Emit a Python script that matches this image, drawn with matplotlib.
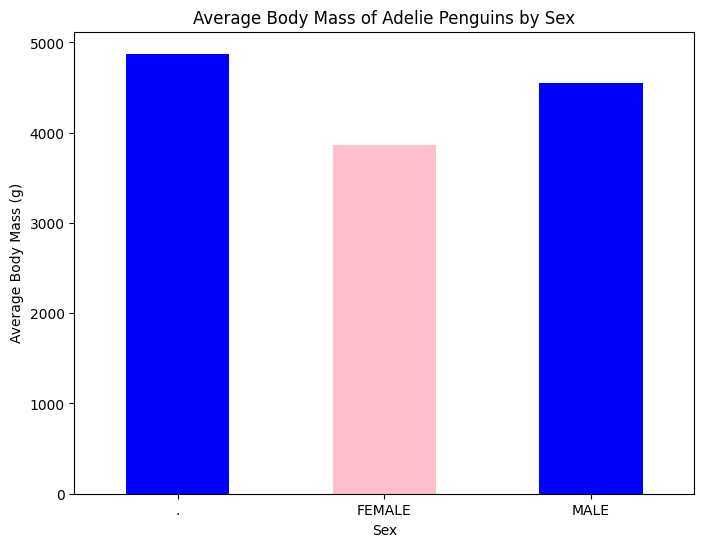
import matplotlib
matplotlib.use("Agg")
import matplotlib.pyplot as plt
import numpy as np

sexes = [".", "FEMALE", "MALE"]
mass = [4875.0, 3862.27, 4545.68]
colors = ["blue", "pink", "blue"]

fig, ax = plt.subplots(figsize=(8, 6))
x = np.arange(len(sexes))
ax.bar(x, mass, width=0.5, color=colors)
ax.set_xticks(x)
ax.set_xticklabels(sexes, rotation=0)
ax.set_xlim(-0.5, len(sexes) - 0.5)
ax.set_title("Average Body Mass of Adelie Penguins by Sex")
ax.set_xlabel("Sex")
ax.set_ylabel("Average Body Mass (g)")

fig.savefig("out.png", dpi=100, bbox_inches="tight")
